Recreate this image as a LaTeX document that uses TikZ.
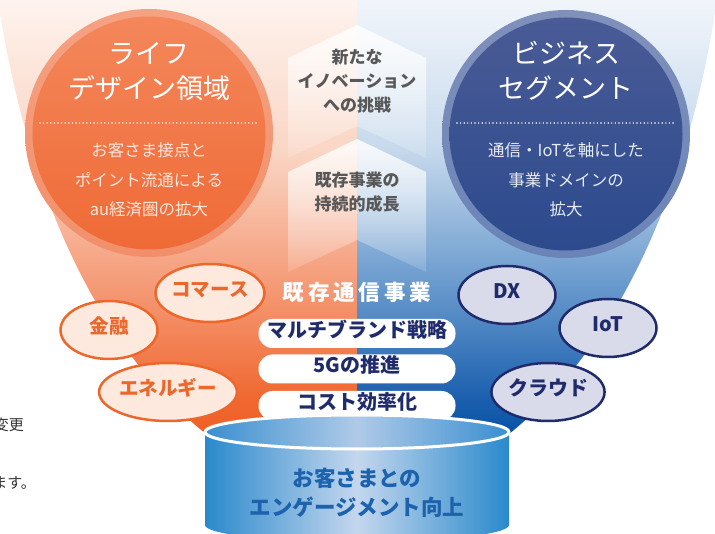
\documentclass[tikz,border=0pt]{standalone}
\usepackage{fontspec}
\newfontfamily\jp{Noto Sans CJK JP}
\usetikzlibrary{fadings,shapes.geometric}
\definecolor{orA}{HTML}{EE5E25}
\definecolor{orB}{HTML}{F0672F}
\definecolor{orC}{HTML}{F59C79}
\definecolor{orD}{HTML}{FAD6C5}
\definecolor{orE}{HTML}{FDEDE5}
\definecolor{orF}{HTML}{FEF4EF}
\definecolor{blA}{HTML}{0550A5}
\definecolor{blB}{HTML}{1A5FAE}
\definecolor{blC}{HTML}{6B9BCE}
\definecolor{blD}{HTML}{C6D9EC}
\definecolor{blE}{HTML}{E9F0F8}
\definecolor{blF}{HTML}{F1F5FA}
\definecolor{ringL}{HTML}{F5A283}
\definecolor{ringLb}{HTML}{F28F6A}
\definecolor{innLt}{HTML}{F4875B}
\definecolor{innLb}{HTML}{EF6A36}
\definecolor{ringR}{HTML}{8090BB}
\definecolor{ringRb}{HTML}{6A84B7}
\definecolor{innRt}{HTML}{4A5B96}
\definecolor{innRb}{HTML}{2C4A8D}
\definecolor{subL}{HTML}{FDE6DC}
\definecolor{subR}{HTML}{E6EBF5}
\definecolor{chevgray}{HTML}{585858}
\definecolor{navy}{HTML}{1F2B6B}
\definecolor{orline}{HTML}{EC672B}
\definecolor{orfill}{HTML}{FDE9DD}
\definecolor{blfill}{HTML}{D9DBEB}
\definecolor{cylEdge}{HTML}{2A89CC}
\definecolor{cylMid}{HTML}{C4D7EE}
\definecolor{cylTopEdge}{HTML}{3A8FD0}
\definecolor{cylTopMid}{HTML}{AFCAE8}
\definecolor{cyltext}{HTML}{1C62AD}
\definecolor{pagetext}{HTML}{333333}
\pgfdeclareverticalshading{funnelL}{100bp}{color(0bp)=(orA); color(25bp)=(orA); color(29.5bp)=(orB); color(43bp)=(orC); color(58bp)=(orD); color(71.6bp)=(orE); color(75bp)=(orF); color(100bp)=(orF)}
\pgfdeclareverticalshading{funnelR}{100bp}{color(0bp)=(blA); color(25bp)=(blA); color(29.5bp)=(blB); color(43bp)=(blC); color(58bp)=(blD); color(71.6bp)=(blE); color(75bp)=(blF); color(100bp)=(blF)}
\tikzfading[name=chevfade, top color=transparent!5, bottom color=transparent!85]
\tikzset{
  jpbase/.style={inner sep=0pt, text height=0.88em, text depth=0.12em, align=center},
  ctitle/.style={jpbase, font=\jp\fontsize{27}{27}\selectfont, text=white},
  csubL/.style={jpbase, font=\jp\fontsize{16.5}{16.5}\selectfont, text=subL},
  csubR/.style={jpbase, font=\jp\fontsize{16.5}{16.5}\selectfont, text=subR},
  chevtext/.style={jpbase, font=\jp\bfseries\fontsize{17}{17}\selectfont, text=chevgray},
  chevbox/.style={fill=white, fill opacity=0.9, path fading=chevfade},
  dotline/.style={white, line width=1.6pt, dash pattern=on 0pt off 3.6pt, line cap=round},
  pill/.style={jpbase, fill=white, rounded corners=14pt, minimum width=197pt, minimum height=29pt, font=\jp\bfseries\fontsize{20}{20}\selectfont, text=navy},
  bubL/.style={jpbase, ellipse, draw=orline, line width=2.5pt, fill=orfill, minimum width=97pt, minimum height=58pt, text=orline, font=\jp\bfseries\fontsize{19.5}{19.5}\selectfont},
  bubR/.style={jpbase, ellipse, draw=navy, line width=2.5pt, fill=blfill, minimum width=97pt, minimum height=58pt, text=navy, font=\jp\bfseries\fontsize{20}{20}\selectfont},
  cyltxt/.style={jpbase, font=\jp\bfseries\fontsize{21.5}{21.5}\selectfont, text=cyltext},
  pagetxt/.style={jpbase, font=\jp\fontsize{15}{15}\selectfont, text=pagetext, anchor=east},
}
\begin{document}
\begin{tikzpicture}[x=1pt,y=-1pt]
\useasboundingbox (0,0) rectangle (715,534);
\fill[white] (0,0) rectangle (715,534);
% funnel
\begin{scope}
  \clip (-2,0) -- (717,0) .. controls (690,180) and (625,340) .. (509,434) -- (206,434) .. controls (90,340) and (25,180) .. (-2,0) -- cycle;
  \shade[shading=funnelL] (-2,0) rectangle (357.5,440);
  \shade[shading=funnelR] (357.5,0) rectangle (717,440);
\end{scope}
% chevrons
\path[chevbox] (357,25) -- (426,58) -- (426,158) -- (357,126) -- (288,158) -- (288,58) -- cycle;
\path[chevbox] (357,139) -- (426,172) -- (426,272) -- (357,240) -- (288,272) -- (288,172) -- cycle;
\node[chevtext] (c1) at (357,60) {新たな};
\node[chevtext] (c2) at (357,84) {イノベーション};
\node[chevtext] (c3) at (357,108) {への挑戦};
\node[chevtext] (c4) at (357,183) {既存事業の};
\node[chevtext] (c5) at (357,207) {持続的成長};
% left circle
\shade[top color=ringL, bottom color=ringLb] (149,133) circle[radius=124];
\shade[top color=innLt, bottom color=innLb] (149,133) circle[radius=116.5];
\node[ctitle] (lt1) at (149,60) {ライフ};
\node[ctitle] (lt2) at (149,95) {デザイン領域};
\draw[dotline] (40,123) -- (258,123);
\node[csubL] (ls1) at (149,153) {お客さま接点と};
\node[csubL] (ls2) at (149,183) {ポイント流通による};
\node[csubL] (ls3) at (149,212) {au経済圏の拡大};
% right circle
\shade[top color=ringR, bottom color=ringRb] (566,134) circle[radius=124];
\shade[top color=innRt, bottom color=innRb] (566,134) circle[radius=116.5];
\node[ctitle] (rt1) at (566,60) {ビジネス};
\node[ctitle] (rt2) at (566,95) {セグメント};
\draw[dotline] (457,123) -- (675,123);
\node[csubR] (rs1) at (566,153) {通信・IoTを軸にした};
\node[csubR] (rs2) at (566,183) {事業ドメインの};
\node[csubR] (rs3) at (566,212) {拡大};
% bubbles
\node[bubL] (b1) at (210,293) {コマース};
\node[bubL] (b2) at (109,330) {金融};
\node[bubL] (b3) at (168,392) {エネルギー};
\node[bubR] (b4) at (507,295) {DX};
\node[bubR] (b5) at (608,328) {IoT};
\node[bubR] (b6) at (548,392) {クラウド};
% existing business
\node[jpbase, font=\jp\bfseries\fontsize{21.5}{21.5}\selectfont, text=white] (ex) at (357,297) {既\hspace{4pt}存\hspace{4pt}通\hspace{4pt}信\hspace{4pt}事\hspace{4pt}業};
\node[pill] (p1) at (357,333.5) {マルチブランド戦略};
\node[pill] (p2) at (357,369) {5Gの推進};
\node[pill] (p3) at (357,405.5) {コスト効率化};
% cylinder
\shade[left color=cylEdge, right color=cylEdge, middle color=cylMid] (205,432) rectangle (509,525);
\shade[left color=cylEdge, right color=cylEdge, middle color=cylMid] (357,525) ellipse[x radius=152, y radius=17];
\shade[left color=cylTopEdge, right color=cylTopEdge, middle color=cylTopMid] (357,432) ellipse[x radius=152, y radius=17];
\draw[white, line width=3pt] (357,432) ellipse[x radius=152, y radius=17];
\node[cyltxt] (cy1) at (357,483) {お客さまとの};
\node[cyltxt] (cy2) at (357,512) {エンゲージメント向上};
% page text fragments (cut off at the left edge, as in the source)
\node[pagetxt] (f1) at (24,427) {変更};
\node[pagetxt] (f2) at (36,485) {ます。};
\end{tikzpicture}
\end{document}
